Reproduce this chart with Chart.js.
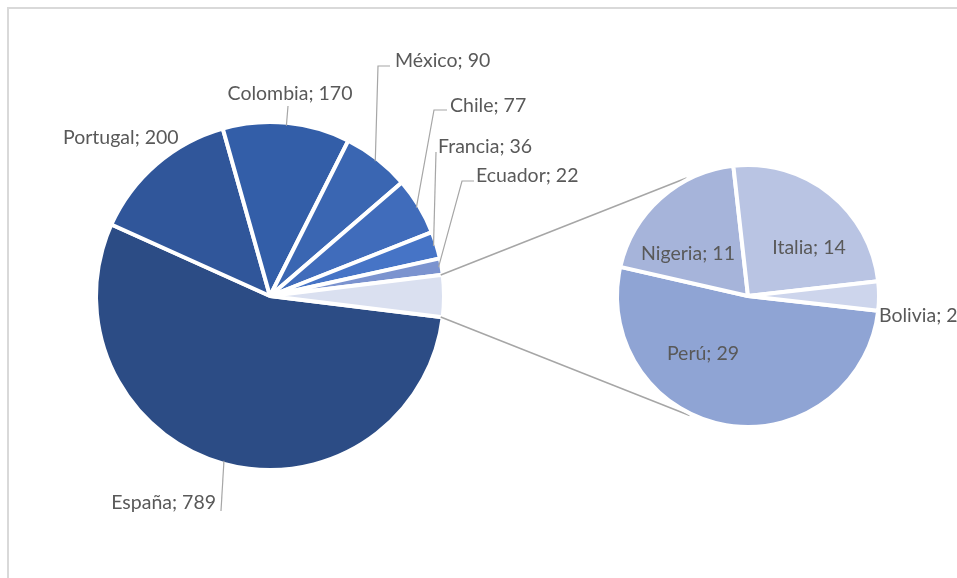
<!DOCTYPE html>
<html>
<head>
<meta charset="utf-8">
<script src="https://cdn.jsdelivr.net/npm/chart.js@4.4.0/dist/chart.umd.min.js"></script>
<style>
    html, body { margin: 0; padding: 0; background: #fff; overflow: hidden; }
    #wrap { position: relative; width: 957px; height: 578px; }
    #frame { position: absolute; left: 7px; top: 7px; width: 1000px; height: 620px;
             border-left: 2px solid #d9d9d9; border-top: 2px solid #d9d9d9; }
    canvas { position: absolute; left: 0; top: 0; }
</style>
</head>
<body>
<div id="wrap">
    <div id="frame"></div>
    <canvas id="mainPie" width="957" height="578"></canvas>
    <canvas id="subPie" width="957" height="578"></canvas>
</div>
<script>
// data
const mainLabels = ['España', 'Portugal', 'Colombia', 'México', 'Chile', 'Francia', 'Ecuador'];
const mainValues = [789, 200, 170, 90, 77, 36, 22];
const subLabels = ['Perú', 'Nigeria', 'Italia', 'Bolivia'];
const subValues = [29, 11, 14, 2];

// colours
const mainColors = ['#2c4c85', '#30569a', '#335ea8', '#3a66b2', '#406cbb', '#4674c6', '#7b93cf', '#dae0f0'];
const subColors = ['#8fa4d4', '#a6b4da', '#b9c4e3', '#cdd5ec'];

const FONT = '19.5px Lato';
const TEXT = '#595959';
const LINE = '#a6a6a6';

// label placement (text anchor + leader path from label towards the slice)
const mainCallouts = [
    { index: 0, x: 216, y: 503, align: 'right', leader: [[221, 511]] },
    { index: 1, x: 63, y: 138, align: 'left' },
    { index: 2, x: 290, y: 94, align: 'center', leader: [[288, 106]] },
    { index: 3, x: 395, y: 61, align: 'left', leader: [[390, 66], [378, 66]] },
    { index: 4, x: 450, y: 106, align: 'left', leader: [[447, 110], [434, 110]] },
    { index: 5, x: 438, y: 147, align: 'left', leader: [[436, 152]] },
    { index: 6, x: 476, y: 176, align: 'left', leader: [[474, 181], [462, 181]] }
];
const subCallouts = [
    { index: 0, x: 703, y: 354, align: 'center' },
    { index: 1, x: 688, y: 254, align: 'center' },
    { index: 2, x: 809, y: 248, align: 'center' },
    { index: 3, x: 879, y: 316, align: 'left' }
];

const otherValue = subValues.reduce((a, b) => a + b, 0);
const mainTotal = mainValues.reduce((a, b) => a + b, 0) + otherValue;
const otherSweep = otherValue / mainTotal * 360;
const boliviaSweep = subValues[3] / otherValue * 360;

function arcProps(arc) {
    return arc.getProps(['x', 'y', 'startAngle', 'endAngle', 'outerRadius'], true);
}

const calloutPlugin = {
    id: 'callouts',
    afterDatasetsDraw(chart, args, opts) {
        const ctx = chart.ctx;
        const arcs = chart.getDatasetMeta(0).data;
        ctx.save();
        ctx.font = FONT;
        ctx.fillStyle = TEXT;
        ctx.strokeStyle = LINE;
        ctx.lineWidth = 1.2;
        ctx.textBaseline = 'middle';
        opts.items.forEach(item => {
            const p = arcProps(arcs[item.index]);
            if (item.leader) {
                const mid = (p.startAngle + p.endAngle) / 2;
                const r = p.outerRadius - 3;
                ctx.beginPath();
                ctx.moveTo(p.x + Math.cos(mid) * r, p.y + Math.sin(mid) * r);
                item.leader.slice().reverse().forEach(pt => ctx.lineTo(pt[0], pt[1]));
                ctx.stroke();
            }
            ctx.textAlign = item.align;
            const label = chart.data.labels[item.index] + '; ' + chart.data.datasets[0].data[item.index];
            ctx.fillText(label, item.x, item.y);
        });
        ctx.restore();
    }
};

const mainChart = new Chart(document.getElementById('mainPie'), {
    type: 'pie',
    data: {
        labels: [...mainLabels, 'Otros'],
        datasets: [{
            data: [...mainValues, otherValue],
            backgroundColor: mainColors,
            borderColor: '#ffffff',
            borderWidth: 4
        }]
    },
    options: {
        responsive: false,
        animation: false,
        events: [],
        rotation: 90 + otherSweep / 2,
        radius: 174,
        layout: { padding: { left: 0, right: 417, top: 14, bottom: 0 } },
        plugins: {
            legend: { display: false },
            tooltip: { enabled: false },
            callouts: { items: mainCallouts }
        }
    },
    plugins: [calloutPlugin]
});

// lines joining the "other" slice to the second pie
const connectorPlugin = {
    id: 'connector',
    beforeDatasetsDraw(chart) {
        const other = arcProps(mainChart.getDatasetMeta(0).data[mainValues.length]);
        const sub = arcProps(chart.getDatasetMeta(0).data[0]);
        const ro = other.outerRadius - 2;
        const rs = sub.outerRadius + 2;
        const ends = [
            [other.startAngle, -117.5 * Math.PI / 180],
            [other.endAngle, 116 * Math.PI / 180]
        ];
        const ctx = chart.ctx;
        ctx.save();
        ctx.strokeStyle = LINE;
        ctx.lineWidth = 1.5;
        ends.forEach(([a1, a2]) => {
            ctx.beginPath();
            ctx.moveTo(other.x + Math.cos(a1) * ro, other.y + Math.sin(a1) * ro);
            ctx.lineTo(sub.x + Math.cos(a2) * rs, sub.y + Math.sin(a2) * rs);
            ctx.stroke();
        });
        ctx.restore();
    }
};

const subChart = new Chart(document.getElementById('subPie'), {
    type: 'pie',
    data: {
        labels: subLabels,
        datasets: [{
            data: subValues,
            backgroundColor: subColors,
            borderColor: '#ffffff',
            borderWidth: 4
        }]
    },
    options: {
        responsive: false,
        animation: false,
        events: [],
        rotation: 90 + boliviaSweep / 2,
        radius: 131,
        layout: { padding: { left: 539, right: 0, top: 14, bottom: 0 } },
        plugins: {
            legend: { display: false },
            tooltip: { enabled: false },
            callouts: { items: subCallouts }
        }
    },
    plugins: [connectorPlugin, calloutPlugin]
});
</script>
</body>
</html>
